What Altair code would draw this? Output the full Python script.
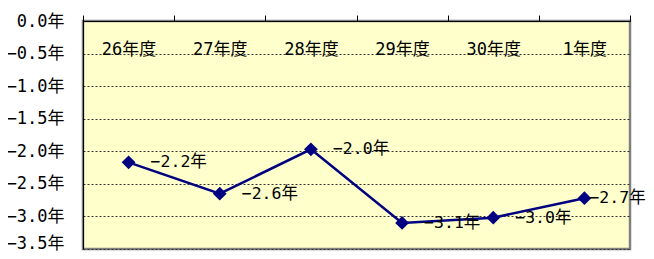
import altair as alt
import pandas as pd

categories = ["26年度", "27年度", "28年度", "29年度", "30年度", "1年度"]
values = [-2.17, -2.65, -1.97, -3.10, -3.02, -2.72]
labels = ["−2.2年", "−2.6年", "−2.0年", "−3.1年", "−3.0年", "−2.7年"]
y_ticks = [0.0, -0.5, -1.0, -1.5, -2.0, -2.5, -3.0, -3.5]

df = pd.DataFrame({"cat": categories, "val": values, "lab": labels,
                   "idx": list(range(len(categories)))})

FONT = "DejaVu Sans Mono, Noto Sans CJK JP"
FS = 16.5
NAVY = "#000080"

x = alt.X("cat:N", sort=categories,
          scale=alt.Scale(type="band", paddingInner=0, paddingOuter=0),
          axis=alt.Axis(orient="top", title=None, labelAngle=0, tickBand="extent",
                        domainColor="#000000", domainWidth=1, tickColor="#000000",
                        tickSize=6, labelPadding=-34, labelBaseline="middle",
                        labelFont=FONT, labelFontSize=17, labelColor="#000000",
                        grid=False))
y = alt.Y("val:Q", scale=alt.Scale(domain=[-3.5, 0], nice=False, zero=False),
          axis=alt.Axis(values=y_ticks, title=None, tickSize=0, labelPadding=19,
                        labelExpr="replace(format(datum.value, '.1f'), '-', '−') + '年'",
                        labelFont=FONT, labelFontSize=17, labelColor="#000000",
                        labelOffset={"condition": {"test": "datum.value <= -3.49", "value": -6}, "value": 0},
                        domainColor="#000000", domainWidth=1,
                        grid=True, gridColor="#333333", gridDash=[2, 2], gridWidth=1))

base = alt.Chart(df)
line = base.mark_line(color=NAVY, strokeWidth=2.5).encode(x=x, y=y)
pts = base.mark_point(shape="diamond", filled=True, size=190, color=NAVY, opacity=1).encode(x=x, y=y)
txt = base.transform_filter("datum.idx < 5").mark_text(
    align="left", baseline="middle", dx=22, font=FONT, fontSize=FS, color="#000000"
).encode(x=x, y=y, text="lab:N")
txt_last = base.transform_filter("datum.idx == 5").mark_text(
    align="left", baseline="middle", dx=5, font=FONT, fontSize=FS, color="#000000"
).encode(x=x, y=y, text="lab:N")

chart = alt.layer(line, pts, txt, txt_last).properties(
    width=547, height=228,
    autosize=alt.AutoSizeParams(type="none"),
    padding={"left": 75, "top": 13, "right": 16, "bottom": 2},
    background="#ffffff",
).configure_view(
    fill="#FFFFCC", stroke="#808080", strokeWidth=2.5
)

chart.save("out.html", embed_options={"renderer": "svg", "actions": False})
